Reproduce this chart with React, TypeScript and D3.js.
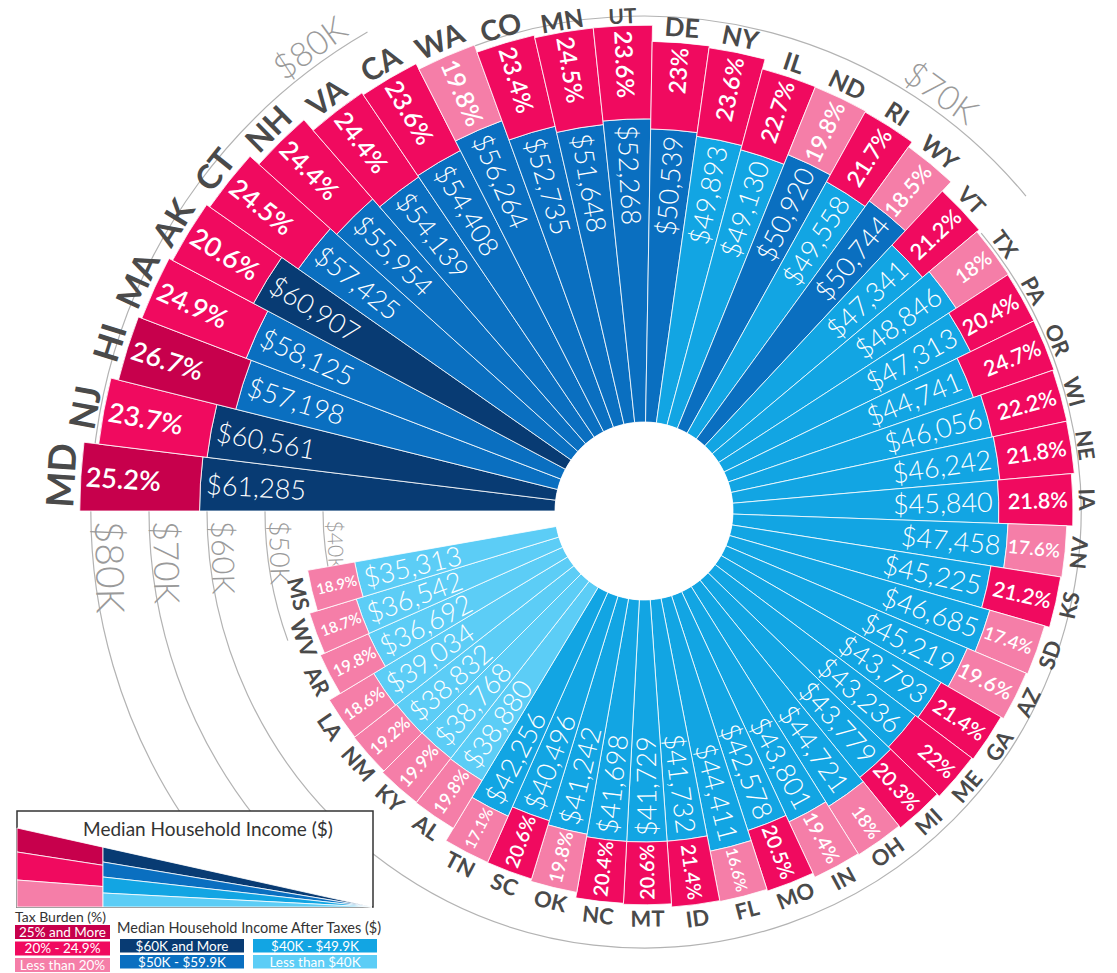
import React from 'react';
import * as d3 from 'd3';

const states = ["MD","NJ","HI","MA","AK","CT","NH","VA","CA","WA","CO","MN","UT","DE","NY","IL","ND","RI","WY","VT","TX","PA","OR","WI","NE","IA","NV","KS","SD","AZ","GA","ME","MI","OH","IN","MO","FL","ID","MT","NC","OK","SC","TN","AL","KY","NM","LA","AR","WV","MS"];
const afterTax = [61285,60561,57198,58125,60907,57425,55954,54139,54408,56264,52735,51648,52268,50539,49893,49130,50920,49558,50744,47341,48846,47313,44741,46056,46242,45840,47458,45225,46685,45219,43793,43236,43779,44721,43801,42578,44411,41732,41729,41698,41242,40496,42256,38880,38768,38832,39034,36692,36542,35313];
const taxBurden = [25.2,23.7,26.7,24.9,20.6,24.5,24.4,24.4,23.6,19.8,23.4,24.5,23.6,23,23.6,22.7,19.8,21.7,18.5,21.2,18,20.4,24.7,22.2,21.8,21.8,17.6,21.2,17.4,19.6,21.4,22,20.3,18,19.4,20.5,16.6,21.4,20.6,20.4,19.8,20.6,17.1,19.8,19.9,19.2,18.6,19.8,18.7,18.9];

const gridValues = [40000,50000,60000,70000,80000];
const gridLabels = ["$40K","$50K","$60K","$70K","$80K"];
const taxLegend = ["25% and More","20% - 24.9%","Less than 20%"];
const incomeLegend = ["$60K and More","$50K - $59.9K","$40K - $49.9K","Less than $40K"];
const legendTitle = "Median Household Income ($)";
const taxTitle = "Tax Burden (%)";
const incomeTitle = "Median Household Income After Taxes ($)";

const W = 1117, H = 973, CX = 644, CY = 511;
const START = 180, STEP = 7;
const FONT = "Lato, 'Open Sans', sans-serif";

const rScale = d3.scaleLinear().domain([0, 80000]).range([89, 553]);
const taxColor = d3.scaleThreshold<number, string>().domain([20, 25]).range(["#f57ea8", "#f00a5f", "#c7004c"]);
const incColor = d3.scaleThreshold<number, string>().domain([40000, 50000, 60000]).range(["#5ccdf6", "#12a5e3", "#0a6fc0", "#083b73"]);
const taxColors = ["#c7004c", "#f00a5f", "#f57ea8"];
const incColors = ["#083b73", "#0a6fc0", "#12a5e3", "#5ccdf6"];

const rad = (deg: number) => deg * Math.PI / 180;
const pt = (r: number, a: number) => [CX + r * Math.cos(rad(a)), CY + r * Math.sin(rad(a))];
const fmt = d3.format("$,");

export default function App() {
  const arcGen = d3.arc<any>();
  const pretax = afterTax.map((v, i) => v / (1 - taxBurden[i] / 100));

  const gridArcs: [number, number, number][] = [
    [0, 166, 181], [1, 160, 181], [2, 320.5, 541], [3, 249.5, 320.5], [3, 140, 181], [4, 140, 240],
  ];
  const gridPaths = gridArcs.map(([gi, a0, a1]) => {
    const p = d3.path();
    p.arc(CX, CY, rScale(gridValues[gi]), rad(a0), rad(a1));
    return p.toString();
  });
  const gapFonts = [21, 27, 31, 35, 39];

  const bars = states.map((s, i) => {
    const a0 = START + i * STEP, a1 = a0 + STEP;
    const mid = (a0 + a1) / 2;
    const an = ((mid % 360) + 360) % 360;
    const rIn = rScale(0), rB = rScale(afterTax[i]), rT = rScale(pretax[i]);
    const blue = arcGen({ innerRadius: rIn, outerRadius: rB, startAngle: rad(a0 + 90), endAngle: rad(a1 + 90) }) as string;
    const pink = arcGen({ innerRadius: rB, outerRadius: rT, startAngle: rad(a0 + 90), endAngle: rad(a1 + 90) }) as string;
    const outward = an > 270 || an < 89;
    const rot = outward ? an : an + 180;
    const anchor = outward ? "end" : "start";
    const [dx, dy] = pt(rB - 6, mid);
    const len = rT - rB;
    const midR = (rT + rB) / 2;
    const pctFs = Math.max(9, Math.min(27, 0.45 * midR * rad(STEP), (len - 8) / 2.7));
    const [px, py] = pt(rT - 5, mid);
    let lblFs = 22 + Math.max(0, pretax[i] - 60000) * 0.72 / 1000;
    let lr = rT + 0.36 * lblFs + 6;
    const sA = -Math.sin(rad(mid));
    if (sA > 0.5) {
      const extra = 0.65 * sA + 0.36 * s.length * Math.abs(Math.cos(rad(mid)));
      const fsMax = (CY - 2 - sA * (rT + 2)) / (extra + 0.36 * sA);
      lblFs = Math.min(lblFs, fsMax);
      lr = Math.min(rT + 0.36 * lblFs + 6, (CY - extra * lblFs - 2) / sA);
    }
    const [lx, ly] = pt(lr, mid);
    const lower = an > 0 && an < 180;
    const lrot = lower ? an - 90 : an + 90;
    return (
      <g key={s}>
        <path d={blue} transform={`translate(${CX},${CY})`} fill={incColor(afterTax[i])} stroke="#fff" strokeWidth={0.8} />
        <path d={pink} transform={`translate(${CX},${CY})`} fill={taxColor(taxBurden[i])} stroke="#fff" strokeWidth={0.8} />
        <text x={dx} y={dy} dy="0.36em" textAnchor={anchor} transform={`rotate(${rot},${dx},${dy})`}
          fontSize={27} fontWeight={300} fill="#fff" fontFamily={FONT}>{fmt(afterTax[i])}</text>
        <text x={px} y={py} dy="0.36em" textAnchor={anchor} transform={`rotate(${rot},${px},${py})`}
          fontSize={pctFs} fontWeight={600} fill="#fff" fontFamily={FONT}>{`${taxBurden[i]}%`}</text>
        <text x={lx} y={ly} dy="0.36em" textAnchor="middle" transform={`rotate(${lrot},${lx},${ly})`}
          fontSize={lblFs} fontWeight={700} fill="#4a4a4a" fontFamily={FONT}>{s}</text>
      </g>
    );
  });

  const gapLabels = gridValues.map((v, gi) => {
    const r = rScale(v);
    const a = 180 - (10 / r) * 180 / Math.PI;
    const [x, y] = pt(r - 4, a);
    return (
      <text key={v} x={x} y={y} transform={`rotate(${a - 90},${x},${y})`} fontSize={gapFonts[gi]}
        fontWeight={300} fill="#9a9a9a" fontFamily={FONT}>{gridLabels[gi]}</text>
    );
  });
  const topLabels = [[4, 234.2], [3, 305.4]].map(([gi, a]) => {
    const r = rScale(gridValues[gi]) + 6;
    const [x, y] = pt(r, a);
    return (
      <text key={gi} x={x} y={y} textAnchor="middle" transform={`rotate(${a + 90},${x},${y})`} fontSize={34}
        fontWeight={300} fill="#9a9a9a" fontFamily={FONT}>{gridLabels[gi]}</text>
    );
  });

  const AX = 372, AY = 907, LX = 17, BX = 103;
  const lineY = (y17: number, x: number) => y17 + (AY - y17) * (x - LX) / (AX - LX);
  const pinkB = [828, 852, 880, 907];
  const pinkPolys = taxColors.map((c, k) => {
    const pts = [[LX, pinkB[k]], [BX, lineY(pinkB[k], BX)], [BX, lineY(pinkB[k + 1], BX)], [LX, pinkB[k + 1]]];
    return <polygon key={c} points={pts.map(p => p.join(",")).join(" ")} fill={c} stroke="#fff" strokeWidth={0.8} />;
  });
  const blueB = [lineY(828, BX), 862, 877, 893, 907];
  const bluePolys = incColors.map((c, k) => {
    const pts = [[BX, blueB[k]], [AX, AY], [BX, blueB[k + 1]]];
    return <polygon key={c} points={pts.map(p => p.join(",")).join(" ")} fill={c} stroke="#fff" strokeWidth={0.8} />;
  });

  const taxBoxes = taxLegend.map((t, k) => {
    const y = 925 + k * 16.5;
    return (
      <g key={t}>
        <rect x={15} y={y} width={95} height={14} fill={taxColors[k]} />
        <text x={62.5} y={y + 7} dy="0.36em" textAnchor="middle" fontSize={13.5} fill="#fff" fontFamily={FONT}>{t}</text>
      </g>
    );
  });
  const incBoxes = incomeLegend.map((t, k) => {
    const x = k < 2 ? 120 : 253;
    const y = k % 2 === 0 ? 939 : 955;
    return (
      <g key={t}>
        <rect x={x} y={y} width={124} height={13.5} fill={incColors[k]} />
        <text x={x + 62} y={y + 6.75} dy="0.36em" textAnchor="middle" fontSize={13.5} fill="#fff" fontFamily={FONT}>{t}</text>
      </g>
    );
  });

  return (
    <svg width={W} height={H} style={{ position: "absolute", left: 0, top: 0, display: "block", background: "#fff" }}>
      <rect width={W} height={H} fill="#fff" />
      {gridPaths.map((d, k) => <path key={k} d={d} fill="none" stroke="#b3b3b3" strokeWidth={1.2} />)}
      {gapLabels}
      {topLabels}
      {bars}
      <circle cx={CX} cy={CY} r={rScale(0)} fill="#fff" />
      <rect x={17} y={811} width={356} height={96} fill="#fff" stroke="#333" strokeWidth={1.5} />
      <text x={208} y={829} dy="0.36em" textAnchor="middle" fontSize={19} fill="#333" fontFamily={FONT}>{legendTitle}</text>
      {pinkPolys}
      {bluePolys}
      <text x={15} y={922} fontSize={14} fill="#333" fontFamily={FONT}>{taxTitle}</text>
      <text x={117} y={933} fontSize={14.5} fill="#333" fontFamily={FONT}>{incomeTitle}</text>
      {taxBoxes}
      {incBoxes}
    </svg>
  );
}
